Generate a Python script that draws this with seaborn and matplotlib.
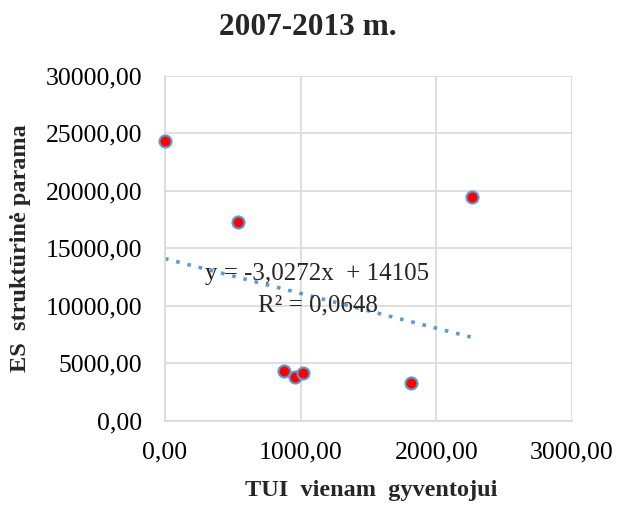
import matplotlib
matplotlib.use("Agg")
import matplotlib.pyplot as plt
import seaborn as sns
import pandas as pd
import numpy as np
from matplotlib.ticker import FuncFormatter

# Data
tui = [0, 540, 874, 955, 1015, 1810, 2262]
es_parama = [24350, 17250, 4300, 3780, 4170, 3260, 19500]
slope = -3.0272
intercept = 14105
r2_text = "0,0648"
title = "2007-2013 m."
xlabel = "TUI  vienam  gyventojui"
ylabel = "ES  struktūrinė parama"
xticks = [0, 1000, 2000, 3000]
yticks = [0, 5000, 10000, 15000, 20000, 25000, 30000]

sns.set_theme(style="white")
plt.rcParams['font.family'] = ['Liberation Serif', 'DejaVu Serif']

df = pd.DataFrame({"x": tui, "y": es_parama})

fig = plt.figure(figsize=(6.21, 5.08), dpi=100)
ax = fig.add_axes([0.2657, 0.1719, 0.6554, 0.6785])

ax.grid(True, color="#d9d9d9", linewidth=1.2)
ax.set_axisbelow(True)

# trendline
xs = np.array([min(tui), max(tui)])
ax.plot(xs, slope * xs + intercept, linestyle=(0, (1, 2.2)), color="#5b9bd5",
        linewidth=2.6, zorder=2)

sns.scatterplot(data=df, x="x", y="y", ax=ax, color="red", edgecolor="#5b9bd5",
                linewidth=1.5, s=75, zorder=3, clip_on=False)

ax.set_xlim(0, 3000)
ax.set_ylim(0, 30000)
ax.set_xticks(xticks)
ax.set_yticks(yticks)
fmt = FuncFormatter(lambda v, p: f"{v:.2f}".replace(".", ","))
ax.xaxis.set_major_formatter(fmt)
ax.yaxis.set_major_formatter(fmt)
ax.tick_params(axis="both", labelsize=18.5, length=0, colors="#000000")
ax.tick_params(axis="x", pad=15)
ax.tick_params(axis="y", pad=16.5)

for s in ["top", "right"]:
    ax.spines[s].set_visible(False)
for s in ["left", "bottom"]:
    ax.spines[s].set_color("#d9d9d9")
    ax.spines[s].set_linewidth(1.2)

fig.text(308 / 621, 1 - 35 / 508, title, ha="center", va="baseline",
         fontsize=22.5, fontweight="bold")
ax.set_xlabel(xlabel, fontsize=17.5, fontweight="bold")
ax.set_ylabel(ylabel, fontsize=17.5, fontweight="bold")
ax.xaxis.set_label_coords(0.506, -0.172)
ax.yaxis.set_label_coords(-0.33, 0.5)

eq = f"y = {slope:.4f}x  + {intercept}".replace(".", ",")
ax.text(1120, 12245, eq, ha="center", va="baseline", fontsize=18)
ax.text(1125, 9486, f"R² = {r2_text}", ha="center", va="baseline", fontsize=18)

fig.savefig("out.png", dpi=100)
